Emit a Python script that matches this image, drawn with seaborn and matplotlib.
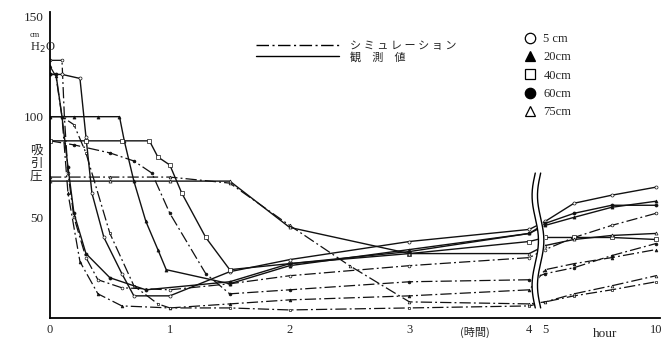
import numpy as np
import pandas as pd
import matplotlib.pyplot as plt
import seaborn as sns
from matplotlib.lines import Line2D

# 深さごとの吸引圧 (cm H2O) -- 観測値
depths = ['5 cm', '20cm', '40cm', '60cm', '75cm']
t_obs_5 = [0, 0.1, 0.25, 0.3, 0.35, 0.45, 0.6, 0.7, 1.0, 1.5, 2, 3, 4, 5, 6.3, 8, 10]
v_obs_5 = [121, 121, 119, 90, 62, 40, 22, 11, 11, 23, 29, 38, 44, 48, 57, 61, 65]
t_obs_20 = [0, 0.2, 0.4, 0.58, 0.62, 0.7, 0.8, 0.9, 0.97, 1.5, 2, 3, 4, 5, 6.3, 8, 10]
v_obs_20 = [100, 100, 100, 100, 88, 68, 48, 34, 24, 17, 26, 34, 42, 46, 50, 55, 58]
t_obs_40 = [0, 0.3, 0.6, 0.83, 0.9, 1.0, 1.1, 1.3, 1.5, 2, 3, 4, 5, 6.3, 8, 10]
v_obs_40 = [88, 88, 88, 88, 80, 76, 62, 40, 24, 27, 32, 38, 40, 40, 40, 39]
t_obs_60 = [0, 0.05, 0.1, 0.15, 0.2, 0.3, 0.5, 0.8, 1.5, 2, 3, 4, 5, 6.3, 8, 10]
v_obs_60 = [121, 121, 100, 75, 52, 32, 20, 14, 18, 27, 33, 42, 47, 52, 56, 56]
t_obs_75 = [0, 0.5, 1.0, 1.5, 2, 3, 4, 5, 6.3, 8, 10]
v_obs_75 = [68, 68, 68, 68, 45, 32, 32, 36, 39, 41, 42]

# シミュレーション
t_sim_5 = [0, 0.1, 0.12, 0.15, 0.2, 0.3, 0.4, 0.6, 1.0, 1.5, 2, 3, 4, 5, 6.3, 8, 10]
v_sim_5 = [128, 128, 100, 72, 50, 30, 19, 15, 14, 17, 21, 26, 30, 34, 40, 46, 52]
t_sim_20 = [0, 0.05, 0.1, 0.15, 0.25, 0.4, 0.6, 1.0, 1.5, 2, 3, 4, 5, 6.3, 8, 10]
v_sim_20 = [125, 120, 100, 62, 28, 12, 6, 5, 7, 9, 11, 14, 24, 27, 30, 34]
t_sim_40 = [0, 0.1, 0.2, 0.3, 0.5, 0.7, 0.9, 1.0, 1.5, 2, 3, 4, 5, 6.3, 8, 10]
v_sim_40 = [100, 100, 96, 82, 42, 16, 7, 5, 5, 4, 5, 6, 8, 11, 14, 18]
t_sim_60 = [0, 0.2, 0.5, 0.7, 0.85, 1.0, 1.3, 1.5, 2, 3, 4, 5, 6.3, 8, 10]
v_sim_60 = [88, 86, 82, 78, 72, 52, 22, 12, 14, 18, 19, 22, 25, 31, 37]
t_sim_75 = [0, 0.5, 1.0, 1.5, 2, 2.5, 3, 4, 5, 6.3, 8, 10]
v_sim_75 = [70, 70, 70, 67, 46, 26, 8, 7, 8, 12, 16, 21]

obs = [(t_obs_5, v_obs_5), (t_obs_20, v_obs_20), (t_obs_40, v_obs_40),
       (t_obs_60, v_obs_60), (t_obs_75, v_obs_75)]
sim = [(t_sim_5, v_sim_5), (t_sim_20, v_sim_20), (t_sim_40, v_sim_40),
       (t_sim_60, v_sim_60), (t_sim_75, v_sim_75)]
markers = ['o', '^', 's', 'o', '^']
filled = [False, True, False, True, False]

xticks = [0, 1, 2, 3, 4, 5, 10]


# 4時間と5時間の間を詰めた横軸
def fwd(t):
    t = np.asarray(t, dtype=float)
    return np.where(t <= 4, t, np.where(t <= 5, 4 + (t - 4) * 0.133, 4.133 + (t - 5) * 0.185))


def inv(x):
    x = np.asarray(x, dtype=float)
    return np.where(x <= 4, x, np.where(x <= 4.133, 4 + (x - 4) / 0.133, 5 + (x - 4.133) / 0.185))


sns.set_theme(style='white')
plt.rcParams['font.family'] = ['Liberation Serif', 'Noto Sans CJK JP']

fig = plt.figure(figsize=(6.72, 3.42), dpi=100)
ax = fig.add_axes([50 / 672, 24 / 342, 610 / 672, 306 / 342])
ax.set_xscale('function', functions=(fwd, inv))

sim_ls = (0, (9, 2.5, 1.5, 2.5))
for (t, v), m, f in zip(sim, markers, filled):
    sns.lineplot(x=t, y=v, ax=ax, color='#111111', lw=0.9, ls=sim_ls, marker=m, markersize=2,
                 mfc='#111111' if f else 'white', mec='#111111', mew=0.5, sort=False, estimator=None)
for (t, v), m, f in zip(obs, markers, filled):
    sns.lineplot(x=t, y=v, ax=ax, color='#111111', lw=1.0, marker=m, markersize=2.2,
                 mfc='#111111' if f else 'white', mec='#111111', mew=0.5, sort=False, estimator=None)

ax.set_xlim(0, inv(5.091))
ax.set_ylim(0, 152)
ax.set_xticks(xticks)
ax.set_xticklabels([str(x) for x in xticks])
ax.minorticks_off()
ax.set_yticks([50, 100, 150])
ax.tick_params(axis='x', direction='in', length=4, width=0.8, labelsize=9, pad=4)
ax.tick_params(axis='y', direction='inout', length=5, width=0.8, labelsize=9.5, pad=2)
for s in ['top', 'right']:
    ax.spines[s].set_visible(False)
for s in ['left', 'bottom']:
    ax.spines[s].set_linewidth(1.3)
    ax.spines[s].set_color('black')
ax.set_xlabel('')
ax.set_ylabel('')
if ax.get_legend():
    ax.get_legend().remove()

# 軸の切れ目 (波線)
yy = np.linspace(72, 5, 200)
wave = 0.2 * np.sin((yy - 72) / 67 * 3 * np.pi)
x1 = inv(fwd(4) + 0.05 + wave * 0.133)
x2 = inv(fwd(4) + 0.095 + wave * 0.133)
ax.fill_betweenx(yy, x1, x2, color='white', zorder=5)
ax.plot(x1, yy, color='black', lw=1.0, zorder=6)
ax.plot(x2, yy, color='black', lw=1.0, zorder=6)

# 軸ラベル
fig.text(30 / 672, 1 - 35 / 342, 'cm', fontsize=6, ha='left', va='center')
fig.text(30 / 672, 1 - 48 / 342, 'H$_2$O', fontsize=9, ha='left', va='center')
fig.text(36 / 672, 1 - 163 / 342, '吸\n引\n圧', fontsize=9, ha='center', va='center',
         linespacing=1.0, family=['Noto Sans CJK JP'])
fig.text(475 / 672, 1 - 332 / 342, '(時間)', fontsize=8, ha='center', va='center',
         family=['Noto Sans CJK JP'])
fig.text(605 / 672, 1 - 334 / 342, 'hour', fontsize=9.5, ha='center', va='center')

# 凡例
h1 = [Line2D([], [], color='black', lw=1.0, ls=sim_ls),
      Line2D([], [], color='black', lw=1.0)]
leg1 = ax.legend(h1, ['シ ミ ュ レ ー シ ョ ン', '観　測　値'], loc='upper left',
                 bbox_to_anchor=(196 / 610, 1 - 19 / 306), frameon=False, handlelength=7.5,
                 handletextpad=1.0, labelspacing=0.05, prop={'family': ['Noto Sans CJK JP'], 'size': 8})
ax.add_artist(leg1)
h2 = [Line2D([], [], ls='', marker=m, ms=7.5, mfc='black' if f else 'white', mec='black', mew=0.9)
      for m, f in zip(markers, filled)]
ax.legend(h2, depths, loc='upper left', bbox_to_anchor=(462 / 610, 1 - 10 / 306), frameon=False,
          handlelength=1.0, handletextpad=0.6, labelspacing=0.5, prop={'size': 9})

fig.savefig('out.png', dpi=100, facecolor='white')
